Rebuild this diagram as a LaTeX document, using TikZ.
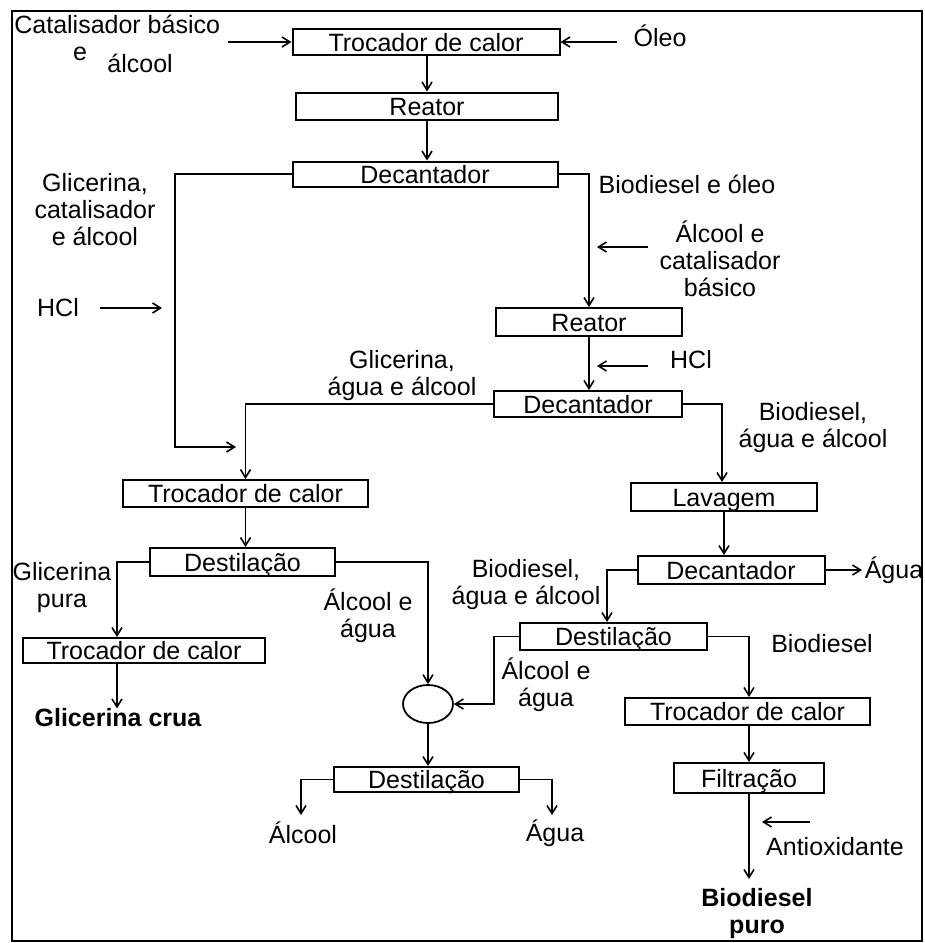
\documentclass[tikz,border=0pt]{standalone}
\usepackage{fontspec}
\setmainfont{Liberation Sans}
\usetikzlibrary{arrows.meta,calc,shapes.geometric}
\begin{document}
\begin{tikzpicture}[x=0.5pt,y=-0.5pt,
  font=\fontsize{12.5}{13.5}\selectfont,
  box/.style={draw,line width=1pt,inner sep=0pt,text height=9pt,text depth=0pt},
  lbl/.style={inner sep=0pt,align=center},
  arr/.style={-{Straight Barb[length=4pt,width=5pt]},line width=0.8pt}]
\useasboundingbox[fill=white] (0,0) rectangle (925,943);
\draw[line width=1.3pt] (12,11) rectangle (922,941);

% boxes
\node[box,minimum width=133.5pt,minimum height=13pt] (t1) at (426,42) {Trocador de calor};
\node[box,minimum width=131pt,minimum height=13.5pt] (r1) at (427,106) {Reator};
\node[box,minimum width=132.5pt,minimum height=12.5pt] (d1) at (425,174) {Decantador};
\node[box,minimum width=93pt,minimum height=14pt] (r2) at (589,322) {Reator};
\node[box,minimum width=94pt,minimum height=13pt] (d2) at (588,404) {Decantador};
\node[box,minimum width=122.5pt,minimum height=13.5pt] (t2) at (245.5,493.5) {Trocador de calor};
\node[box,minimum width=92.5pt,minimum height=14pt] (ds1) at (242.5,562) {Destilação};
\node[box,minimum width=121pt,minimum height=12.5pt] (t3) at (144,650.5) {Trocador de calor};
\node[box,minimum width=93pt,minimum height=14pt] (lav) at (724,497) {Lavagem};
\node[box,minimum width=93.5pt,minimum height=14pt] (d3) at (731,570) {Decantador};
\node[box,minimum width=93.5pt,minimum height=13.5pt] (ds2) at (613.5,636.5) {Destilação};
\node[draw,ellipse,line width=0.9pt,minimum width=25pt,minimum height=19pt,inner sep=0pt] (circ) at (428,704) {};
\node[box,minimum width=92.5pt,minimum height=12.5pt] (ds3) at (426.5,779.5) {Destilação};
\node[box,minimum width=122.5pt,minimum height=13.5pt] (t4) at (747.5,711.5) {Trocador de calor};
\node[box,minimum width=75pt,minimum height=15pt] (fil) at (749,778) {Filtração};

% labels
\node[lbl,anchor=base west] (cat) at (14,33) {Catalisador básico};
\node[lbl,anchor=base] (cate) at (80,60) {e};
\node[lbl,anchor=base west] (catal) at (107,72) {álcool};
\node[lbl] (oleo) at (660,36) {Óleo};
\node[lbl] (glic1) at (95,210) {Glicerina,\\catalisador\\e álcool};
\node[lbl] (hcl1) at (58,308) {HCl};
\node[lbl] (bioo) at (687,184) {Biodiesel e óleo};
\node[lbl] (alcat) at (720,259) {Álcool e\\catalisador\\básico};
\node[lbl] (hcl2) at (691,360) {HCl};
\node[lbl] (glic2) at (402,376) {Glicerina,\\água e álcool};
\node[lbl] (bio2) at (813,428) {Biodiesel,\\água e álcool};
\node[lbl] (gpura) at (62,588) {Glicerina\\pura};
\node[lbl] (aa1) at (368,616) {Álcool e\\água};
\node[lbl,font=\fontsize{12.5}{13.5}\selectfont\bfseries] (gcrua) at (118,718) {Glicerina crua};
\node[lbl] (agua1) at (894,570) {Água};
\node[lbl] (bio3) at (526,585) {Biodiesel,\\água e álcool};
\node[lbl] (aa2) at (546,685) {Álcool e\\água};
\node[lbl] (bio4) at (822,644) {Biodiesel};
\node[lbl] (alc) at (303,833) {Álcool};
\node[lbl] (agua2) at (555,833) {Água};
\node[lbl] (antiox) at (835,847) {Antioxidante};
\node[lbl,font=\fontsize{12.5}{13.5}\selectfont\bfseries] (biopuro) at (757,914) {Biodiesel\\puro};

% helper coordinates
\coordinate (s1) at (228,42);
\coordinate (s2) at (617,42);
\coordinate (vL) at (175,0);
\coordinate (j1) at (236,447);
\coordinate (h1a) at (100,308);
\coordinate (h1b) at (162,308);
\coordinate (a1a) at (648,247);
\coordinate (a1b) at (597,247);
\coordinate (h2a) at (648,366);
\coordinate (h2b) at (597,366);
\coordinate (gL) at (117,0);
\coordinate (dsL) at (607,0);
\coordinate (lavX) at (722,0);
\coordinate (xB) at (749,0);
\coordinate (ag1) at (862,570);
\coordinate (alc1) at (301,815);
\coordinate (ag2) at (552,815);
\coordinate (an1) at (810,822);
\coordinate (an2) at (762,822);
\coordinate (bp) at (749,879);

% connectors
\draw[arr] (s1) -- (t1.west);
\draw[arr] (s2) -- (t1.east);
\draw[arr] (t1.south -| r1.north) -- (r1.north);
\draw[arr] (r1.south) -- (r1.south |- d1.north);
\draw[arr] (d1.west) -| (vL |- j1) -- (j1);
\draw[arr] (h1a) -- (h1b);
\draw[arr] (d1.east) -| (r2.north);
\draw[arr] (a1a) -- (a1b);
\draw[arr] (r2.south) -- (r2.south |- d2.north);
\draw[arr] (h2a) -- (h2b);
\draw[arr] (d2.west) -| (t2.north);
\draw[arr] (d2.east) -| (lavX |- lav.north);
\draw[arr] (t2.south) -- (t2.south |- ds1.north);
\draw[arr] (ds1.west) -| (gL |- t3.north);
\draw[arr] (ds1.east) -| (circ.north);
\draw[arr] (gL |- t3.south) -- (gL |- gcrua.north);
\draw[arr] (lav.south) -- (lav.south |- d3.north);
\draw[arr] (d3.east) -- (ag1);
\draw[arr] (d3.west) -| (dsL |- ds2.north);
\draw[arr] (ds2.west) -- ++(-25,0) |- (circ.east);
\draw[arr] (ds2.east) -| (xB |- t4.north);
\draw[arr] (circ.south) -- (circ.south |- ds3.north);
\draw[arr] (ds3.west) -| (alc1);
\draw[arr] (ds3.east) -| (ag2);
\draw[arr] (xB |- t4.south) -- (xB |- fil.north);
\draw[arr] (xB |- fil.south) -- (bp);
\draw[arr] (an1) -- (an2);
\end{tikzpicture}
\end{document}
